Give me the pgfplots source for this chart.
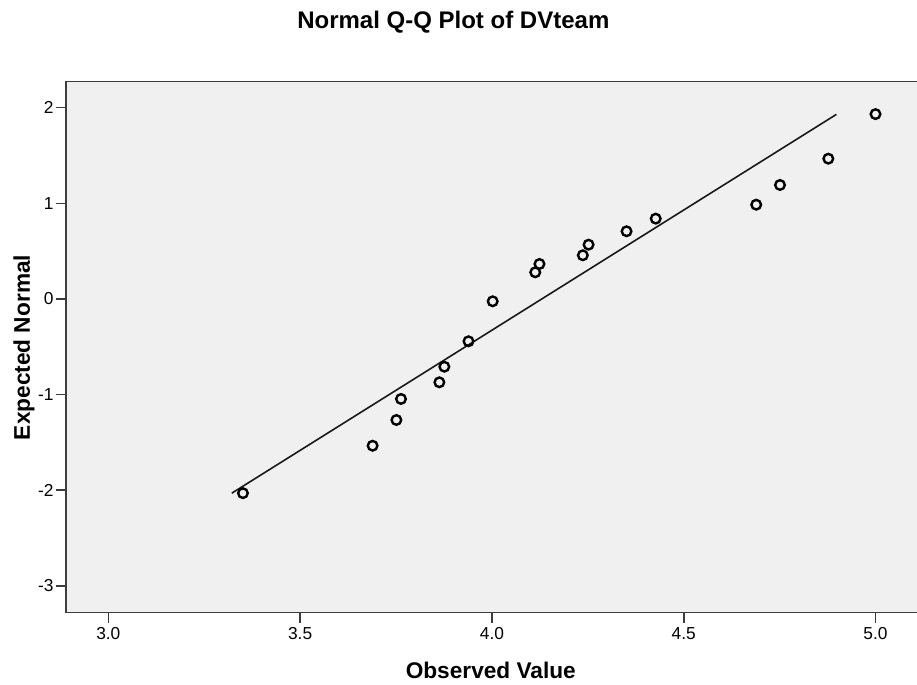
\documentclass[border=0pt]{standalone}
\usepackage{pgfplots}
\pgfplotsset{compat=1.18}
\usepackage{fontspec}
\setmainfont{Liberation Sans}
\definecolor{plotbg}{HTML}{F0F0F0}
\definecolor{frame}{HTML}{3C3C3C}
\begin{document}
\begin{tikzpicture}
\begin{axis}[
  scale only axis,
  width=641.25pt, height=398.55pt,
  xmin=2.8897, xmax=5.1186,
  ymin=-3.2797, ymax=2.276,
  axis background/.style={fill=plotbg},
  axis line style={frame, line width=1.1pt},
  xtick={3.0,3.5,4.0,4.5,5.0},
  ytick={-3,-2,-1,0,1,2},
  xtick pos=bottom, ytick pos=left,
  tick align=outside,
  major tick length=7.8pt,
  tick style={frame, line width=1.2pt},
  /pgf/number format/assume math mode=true,
  xticklabel style={/pgf/number format/.cd, fixed, fixed zerofill, precision=1},
  ticklabel style={font=\fontsize{13}{15}\selectfont, text=black},
  yticklabel style={xshift=2pt},
  clip=false,
]
\addplot[no marks, black!90, line width=1.2pt] coordinates {(3.322,-2.03) (4.898,1.93)};
\addplot[only marks, mark=o, mark size=3.6pt, mark options={line width=1.8pt, black}] coordinates {
(3.351,-2.030)
(3.689,-1.534)
(3.751,-1.265)
(3.763,-1.045)
(3.863,-0.871)
(3.876,-0.708)
(3.939,-0.442)
(4.002,-0.024)
(4.113,0.279)
(4.124,0.366)
(4.237,0.457)
(4.252,0.568)
(4.351,0.708)
(4.427,0.840)
(4.689,0.986)
(4.751,1.192)
(4.877,1.467)
(5.000,1.933)
};
\end{axis}
\node[anchor=base, font=\fontsize{18}{22}\selectfont\bfseries] at (290.5pt,437.8pt) {Normal Q-Q Plot of DVteam};
\node[anchor=base, font=\fontsize{17}{20}\selectfont\bfseries] at (318.6pt,-49pt) {Observed Value};
\node[anchor=base, rotate=90, font=\fontsize{17}{20}\selectfont\bfseries] at (-27pt,198.9pt) {Expected Normal};
\pgfresetboundingbox
\path[use as bounding box] (-49.5pt,-54.225pt) rectangle (638.25pt,459.525pt);
\end{tikzpicture}
\end{document}
